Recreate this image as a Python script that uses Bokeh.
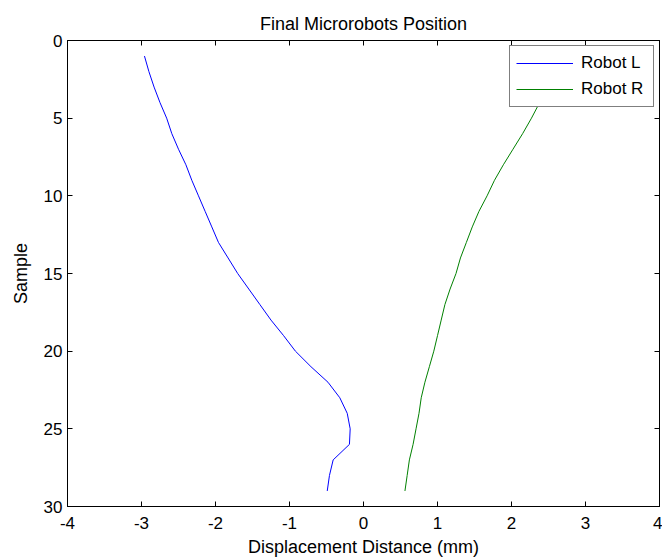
from bokeh.plotting import figure
from bokeh.models import Range1d, LinearAxis, FixedTicker
from bokeh.embed import file_html
from bokeh.resources import INLINE

# Sample index (vertical axis, reversed) and final displacement of each robot (mm)
sample = list(range(1, 30))
robot_l = [-2.96, -2.90, -2.83, -2.75, -2.66, -2.59, -2.50, -2.40, -2.32, -2.23,
           -2.14, -2.05, -1.96, -1.83, -1.70, -1.55, -1.40, -1.25, -1.08, -0.92,
           -0.71, -0.48, -0.32, -0.22, -0.18, -0.19, -0.41, -0.46, -0.49]
robot_r = [2.75, 2.62, 2.49, 2.38, 2.27, 2.15, 2.02, 1.89, 1.77, 1.67,
           1.56, 1.47, 1.39, 1.31, 1.25, 1.17, 1.10, 1.05, 1.00, 0.95,
           0.89, 0.83, 0.78, 0.75, 0.71, 0.67, 0.62, 0.59, 0.56]

x_ticks = [-4, -3, -2, -1, 0, 1, 2, 3, 4]
y_ticks = [0, 5, 10, 15, 20, 25, 30]
# plain hyphen-minus tick labels
x_tick_labels = {t: str(t) for t in x_ticks}
y_tick_labels = {t: str(t) for t in y_ticks}

FONT = "Liberation Sans"

p = figure(width=662, height=559, output_backend="svg", toolbar_location=None,
           x_range=Range1d(-4, 4), y_range=Range1d(30, 0),
           min_border_left=67, min_border_right=3, min_border_top=40,
           min_border_bottom=51, title="Final Microrobots Position")

p.background_fill_color = "white"
p.border_fill_color = "white"
p.outline_line_color = "black"
p.outline_line_width = 1
p.xgrid.visible = False
p.ygrid.visible = False

p.title.align = "center"
p.title.text_font = FONT
p.title.text_font_size = "18px"
p.title.text_font_style = "normal"
p.title.text_color = "black"
p.title.standoff = 14


def style_axis(ax, ticks):
    ax.ticker = FixedTicker(ticks=ticks)
    ax.major_tick_in = 5
    ax.major_tick_out = 0
    ax.major_tick_line_color = "black"
    ax.minor_tick_line_color = None
    ax.axis_line_color = "black"
    ax.major_label_text_font = FONT
    ax.major_label_text_font_size = "17px"
    ax.major_label_text_color = "black"
    ax.axis_label_text_font = FONT
    ax.axis_label_text_font_size = "18px"
    ax.axis_label_text_font_style = "normal"
    ax.axis_label_text_color = "black"


xa = p.xaxis[0]
ya = p.yaxis[0]
style_axis(xa, x_ticks)
style_axis(ya, y_ticks)
xa.major_label_overrides = x_tick_labels
ya.major_label_overrides = y_tick_labels
xa.axis_label = "Displacement Distance (mm)"
xa.major_label_standoff = 10
xa.axis_label_standoff = 5
ya.axis_label = "Sample"
ya.major_label_standoff = 5
ya.axis_label_standoff = 10

# Box axes on the top and right: tick marks only, no labels
for loc, ticks in (("above", x_ticks), ("right", y_ticks)):
    ax = LinearAxis()
    style_axis(ax, ticks)
    ax.major_label_overrides = {t: "" for t in ticks}
    ax.major_label_text_color = None
    ax.major_label_standoff = 0
    p.add_layout(ax, loc)

p.line(robot_l, sample, line_color="#0000ff", line_width=1, legend_label="Robot L")
p.line(robot_r, sample, line_color="#008000", line_width=1, legend_label="Robot R")

lg = p.legend[0]
lg.location = "top_right"
lg.margin = 5
lg.padding = 6
lg.spacing = 4
lg.glyph_width = 57
lg.glyph_height = 22
lg.label_standoff = 8
lg.label_width = 66
lg.label_text_font = FONT
lg.label_text_font_size = "17px"
lg.label_text_color = "black"
lg.border_line_color = "black"
lg.border_line_width = 1
lg.background_fill_color = "white"
lg.background_fill_alpha = 1.0

open("out.html", "w").write(file_html(p, INLINE))
